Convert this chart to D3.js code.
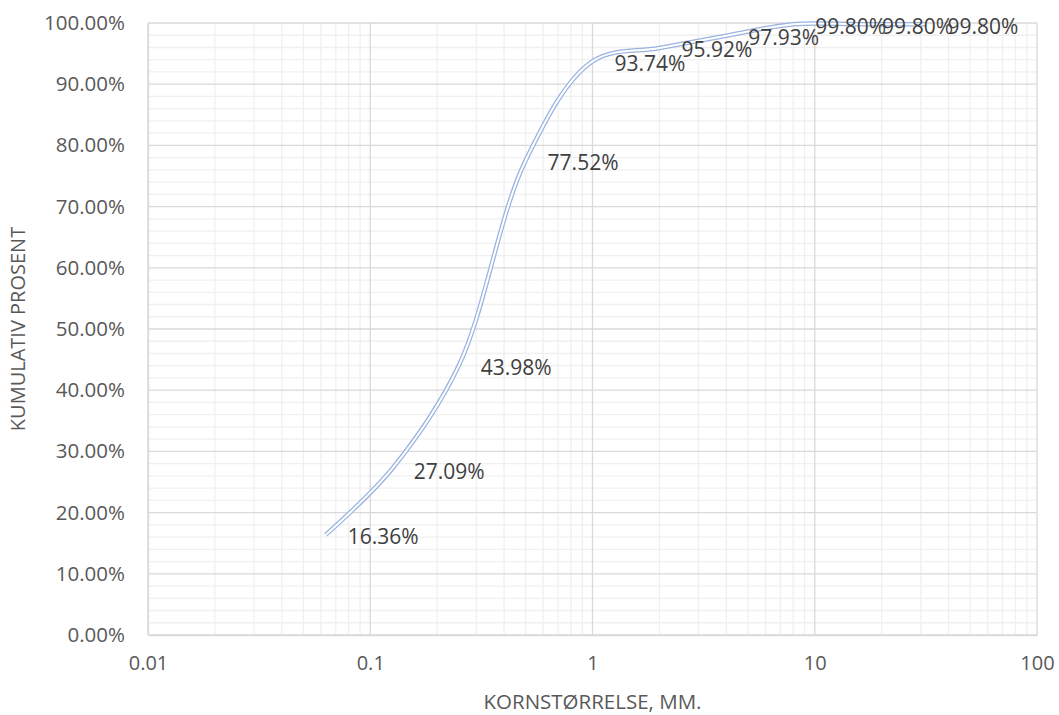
<!doctype html>
<html>
<head>
<script src="https://d3js.org/d3.v7.min.js"></script>
<style>
  body { margin: 0; background: #fff; }
  text { font-family: "Open Sans", sans-serif; fill: #595959; }
</style>
</head>
<body>
<svg width="1059" height="715" id="chart"></svg>
<script>
// sieve sizes (mm) and cumulative passing
var sizes = [0.063, 0.125, 0.25, 0.5, 1, 2, 4, 8, 16, 31.5];
var passing = [16.36, 27.09, 43.98, 77.52, 93.74, 95.92, 97.93, 99.80, 99.80, 99.80];
var xTicks = [0.01, 0.1, 1, 10, 100];
var yTicks = [0, 10, 20, 30, 40, 50, 60, 70, 80, 90, 100];

var svg = d3.select("#chart"),
    plotL = 148, plotR = 1037, plotT = 23, plotB = 635;

var x = d3.scaleLog().domain([0.01, 100]).range([plotL, plotR]);
var y = d3.scaleLinear().domain([0, 100]).range([plotB, plotT]);

var grid = svg.append("g");

// minor vertical lines
var minorX = [];
[0.01, 0.1, 1, 10].forEach(function(d) {
    for (var k = 2; k <= 9; k++) minorX.push(d * k);
});
grid.selectAll(".mx").data(minorX).enter().append("line")
    .attr("x1", function(d) { return x(d); }).attr("x2", function(d) { return x(d); })
    .attr("y1", plotT).attr("y2", plotB)
    .attr("stroke", "#f0f0f0").attr("stroke-width", 1.3);

// minor horizontal lines every 2%
var minorY = d3.range(0, 101, 2).filter(function(d) { return d % 10 != 0; });
grid.selectAll(".my").data(minorY).enter().append("line")
    .attr("x1", plotL).attr("x2", plotR)
    .attr("y1", function(d) { return y(d); }).attr("y2", function(d) { return y(d); })
    .attr("stroke", "#f0f0f0").attr("stroke-width", 1.3);

// major lines
grid.selectAll(".Mx").data(xTicks).enter().append("line")
    .attr("x1", function(d) { return x(d); }).attr("x2", function(d) { return x(d); })
    .attr("y1", plotT).attr("y2", plotB)
    .attr("stroke", "#d9d9d9").attr("stroke-width", 1.3);
grid.selectAll(".My").data(yTicks).enter().append("line")
    .attr("x1", plotL).attr("x2", plotR)
    .attr("y1", function(d) { return y(d); }).attr("y2", function(d) { return y(d); })
    .attr("stroke", "#d9d9d9").attr("stroke-width", 1.3);

// axes
var xAxis = svg.append("g")
    .attr("transform", "translate(0," + plotB + ")")
    .call(d3.axisBottom(x).tickValues(xTicks).tickSize(0).tickPadding(21)
        .tickFormat(function(d) { return String(d); }));
xAxis.select(".domain").attr("stroke", "#d9d9d9").attr("stroke-width", 1.3);
xAxis.selectAll("text").style("font-size", "20px").attr("fill", "#595959");

var yAxis = svg.append("g")
    .attr("transform", "translate(" + plotL + ",0)")
    .call(d3.axisLeft(y).tickValues(yTicks).tickSize(0).tickPadding(23)
        .tickFormat(function(d) { return d.toFixed(2) + "%"; }));
yAxis.select(".domain").attr("stroke", "#d9d9d9").attr("stroke-width", 1.3);
yAxis.selectAll("text").style("font-size", "20.5px").attr("fill", "#595959");

// curve, double line
var pts = sizes.map(function(d, i) { return [d, passing[i]]; });
var line = d3.line()
    .x(function(d) { return x(d[0]); })
    .y(function(d) { return y(d[1]); })
    .curve(d3.curveCatmullRom.alpha(0.5));

svg.append("path").datum(pts).attr("d", line)
    .attr("fill", "none").attr("stroke", "#9ab3e0").attr("stroke-width", 4.5);
svg.append("path").datum(pts).attr("d", line)
    .attr("fill", "none").attr("stroke", "#fff").attr("stroke-width", 2);

// data labels
svg.selectAll(".lbl").data(pts).enter().append("text")
    .attr("x", function(d) { return x(d[0]) + 22; })
    .attr("y", function(d) { return y(d[1]) + 2; })
    .attr("dy", "0.35em")
    .style("font-size", "21px")
    .style("fill", "#404040")
    .text(function(d) { return d[1].toFixed(2) + "%"; });

// axis titles
svg.append("text")
    .attr("x", (plotL + plotR) / 2).attr("y", 709)
    .attr("text-anchor", "middle")
    .style("font-size", "20.5px")
    .text("KORNSTØRRELSE, MM.");

svg.append("text")
    .attr("transform", "translate(25," + ((plotT + plotB) / 2) + ") rotate(-90)")
    .attr("text-anchor", "middle")
    .style("font-size", "20px")
    .text("KUMULATIV PROSENT");
</script>
</body>
</html>
